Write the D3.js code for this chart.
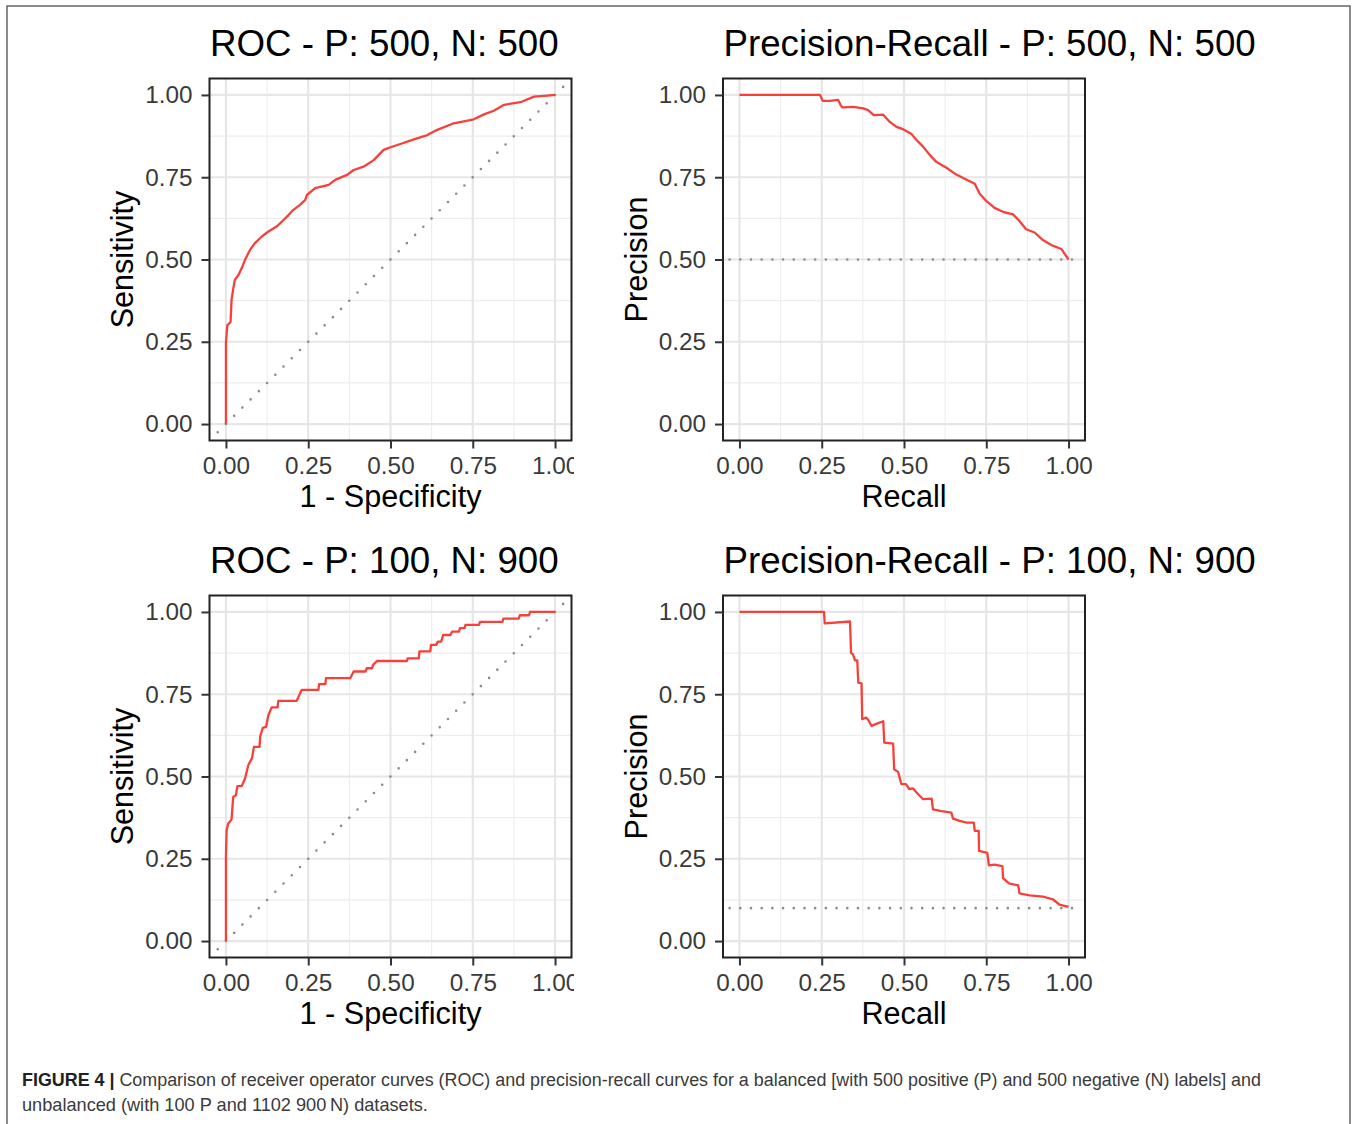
<!DOCTYPE html>
<html>
<head>
<meta charset="utf-8">
<script src="https://cdn.jsdelivr.net/npm/d3@7"></script>
<style>
  html, body { margin: 0; padding: 0; background: #fff; }
  svg { display: block; }
</style>
</head>
<body>
<svg id="chart" width="1357" height="1124"></svg>
<script>
// ---------- DATA ----------
const tickValues = [0, 0.25, 0.5, 0.75, 1];
const minorValues = [0.125, 0.375, 0.625, 0.875];

const panelTitles = [
  "ROC - P: 500, N: 500",
  "Precision-Recall - P: 500, N: 500",
  "ROC - P: 100, N: 900",
  "Precision-Recall - P: 100, N: 900"
];
const xTitles = ["1 - Specificity", "Recall", "1 - Specificity", "Recall"];
const yTitles = ["Sensitivity", "Precision", "Sensitivity", "Precision"];

// ROC, balanced (P 500, N 500)
const roc1X = [0, 0, 0.004, 0.014, 0.017, 0.022, 0.027, 0.038, 0.048, 0.058, 0.073, 0.088, 0.109, 0.129, 0.154, 0.175, 0.19, 0.205, 0.225, 0.241, 0.246, 0.271, 0.312, 0.332, 0.368, 0.388, 0.418, 0.449, 0.479, 0.5, 0.53, 0.571, 0.612, 0.642, 0.692, 0.753, 0.784, 0.814, 0.845, 0.895, 0.936, 0.977, 1];
const roc1Y = [0, 0.246, 0.30, 0.31, 0.377, 0.41, 0.438, 0.453, 0.474, 0.499, 0.529, 0.55, 0.57, 0.585, 0.60, 0.62, 0.635, 0.651, 0.666, 0.681, 0.696, 0.717, 0.727, 0.742, 0.757, 0.772, 0.782, 0.802, 0.833, 0.841, 0.851, 0.865, 0.878, 0.894, 0.914, 0.926, 0.941, 0.952, 0.97, 0.978, 0.995, 0.998, 1];

// Precision-Recall, balanced (P 500, N 500)
const pr1X = [0, 0.245, 0.253, 0.275, 0.3, 0.307, 0.313, 0.346, 0.376, 0.391, 0.408, 0.437, 0.457, 0.477, 0.497, 0.523, 0.538, 0.558, 0.578, 0.599, 0.629, 0.659, 0.689, 0.715, 0.73, 0.75, 0.775, 0.801, 0.831, 0.851, 0.871, 0.897, 0.922, 0.952, 0.978, 1];
const pr1Y = [1, 1, 0.982, 0.982, 0.985, 0.97, 0.962, 0.964, 0.959, 0.954, 0.939, 0.94, 0.918, 0.903, 0.896, 0.881, 0.863, 0.843, 0.818, 0.796, 0.779, 0.758, 0.743, 0.73, 0.70, 0.678, 0.657, 0.645, 0.637, 0.617, 0.592, 0.582, 0.559, 0.542, 0.532, 0.5];

// ROC, unbalanced (P 100, N 900)
const roc2X = [0, 0, 0.002, 0.007, 0.017, 0.022, 0.03, 0.035, 0.048, 0.058, 0.068, 0.079, 0.085, 0.102, 0.104, 0.112, 0.122, 0.129, 0.139, 0.157, 0.159, 0.215, 0.23, 0.281, 0.283, 0.302, 0.304, 0.378, 0.388, 0.424, 0.428, 0.444, 0.447, 0.459, 0.55, 0.552, 0.586, 0.588, 0.621, 0.623, 0.639, 0.644, 0.654, 0.66, 0.682, 0.687, 0.708, 0.711, 0.725, 0.728, 0.769, 0.772, 0.84, 0.843, 0.89, 0.893, 0.921, 0.924, 1];
const roc2Y = [0, 0.256, 0.337, 0.357, 0.369, 0.438, 0.443, 0.471, 0.471, 0.494, 0.535, 0.555, 0.59, 0.59, 0.621, 0.648, 0.651, 0.687, 0.71, 0.71, 0.73, 0.73, 0.763, 0.763, 0.781, 0.781, 0.799, 0.799, 0.819, 0.819, 0.829, 0.829, 0.839, 0.851, 0.851, 0.859, 0.859, 0.88, 0.88, 0.9, 0.9, 0.91, 0.91, 0.93, 0.93, 0.94, 0.94, 0.951, 0.951, 0.961, 0.961, 0.97, 0.97, 0.98, 0.98, 0.99, 0.99, 1, 1];

// Precision-Recall, unbalanced (P 100, N 900)
const pr2X = [0, 0.257, 0.259, 0.336, 0.339, 0.345, 0.351, 0.358, 0.361, 0.371, 0.373, 0.385, 0.392, 0.401, 0.416, 0.437, 0.44, 0.467, 0.47, 0.482, 0.492, 0.506, 0.516, 0.527, 0.543, 0.558, 0.584, 0.588, 0.614, 0.644, 0.649, 0.669, 0.69, 0.712, 0.715, 0.727, 0.728, 0.753, 0.758, 0.775, 0.799, 0.801, 0.819, 0.847, 0.851, 0.882, 0.922, 0.952, 0.972, 1];
const pr2Y = [1, 1, 0.965, 0.971, 0.876, 0.871, 0.853, 0.853, 0.785, 0.783, 0.674, 0.679, 0.671, 0.654, 0.66, 0.668, 0.603, 0.6, 0.522, 0.514, 0.477, 0.477, 0.462, 0.464, 0.446, 0.431, 0.433, 0.4, 0.395, 0.39, 0.372, 0.365, 0.36, 0.36, 0.335, 0.335, 0.274, 0.268, 0.23, 0.232, 0.228, 0.191, 0.175, 0.169, 0.145, 0.139, 0.135, 0.127, 0.111, 0.104];

const baselinePR = [0.5, 0.1]; // positive prevalence lines

const captionBold = "FIGURE 4 |";
const captionLine1 = " Comparison of receiver operator curves (ROC) and precision-recall curves for a balanced [with 500 positive (P) and 500 negative (N) labels] and";
const captionLine2 = "unbalanced (with 100 P and 1102 900\u2009N) datasets.";

// ---------- LAYOUT ----------
const svg = d3.select("#chart");
const FONT = "'Liberation Sans', Arial, Helvetica, sans-serif";
const RED = "#F7403A";
const W = 362, H = 362;
const panels = [
  { L: 209.5, T: 78.5, kind: "roc", xs: roc1X, ys: roc1Y },
  { L: 723,   T: 78.5, kind: "pr",  xs: pr1X,  ys: pr1Y, base: baselinePR[0] },
  { L: 209.5, T: 595.5, kind: "roc", xs: roc2X, ys: roc2Y },
  { L: 723,   T: 595.5, kind: "pr",  xs: pr2X,  ys: pr2Y, base: baselinePR[1] }
];

// outer frame
svg.append("rect")
  .attr("x", 7).attr("y", 6).attr("width", 1343).attr("height", 1130)
  .attr("fill", "none").attr("stroke", "#5a5a5a").attr("stroke-width", 1.4);

svg.append("clipPath").attr("id", "leftclip")
  .append("rect").attr("x", 0).attr("y", 0).attr("width", 574).attr("height", 1124);

panels.forEach((p, i) => {
  const x = d3.scaleLinear().domain([-0.05, 1.05]).range([p.L, p.L + W]);
  const y = d3.scaleLinear().domain([-0.05, 1.05]).range([p.T + H, p.T]);
  const g = svg.append("g");
  if (p.kind === "roc") g.attr("clip-path", "url(#leftclip)");

  const clipId = "pclip" + i;
  svg.append("clipPath").attr("id", clipId)
    .append("rect").attr("x", p.L).attr("y", p.T).attr("width", W).attr("height", H);

  // grid
  const grid = g.append("g");
  grid.selectAll(".minx").data(minorValues).join("line")
    .attr("x1", d => x(d)).attr("x2", d => x(d)).attr("y1", p.T).attr("y2", p.T + H)
    .attr("stroke", "#EDEDED").attr("stroke-width", 1.1);
  grid.selectAll(".miny").data(minorValues).join("line")
    .attr("y1", d => y(d)).attr("y2", d => y(d)).attr("x1", p.L).attr("x2", p.L + W)
    .attr("stroke", "#EDEDED").attr("stroke-width", 1.1);
  grid.selectAll(".majx").data(tickValues).join("line")
    .attr("x1", d => x(d)).attr("x2", d => x(d)).attr("y1", p.T).attr("y2", p.T + H)
    .attr("stroke", "#E6E6E6").attr("stroke-width", 2.2);
  grid.selectAll(".majy").data(tickValues).join("line")
    .attr("y1", d => y(d)).attr("y2", d => y(d)).attr("x1", p.L).attr("x2", p.L + W)
    .attr("stroke", "#E6E6E6").attr("stroke-width", 2.2);

  // reference lines
  const ref = g.append("g").attr("clip-path", `url(#${clipId})`);
  if (p.kind === "roc") {
    ref.append("line")
      .attr("x1", x(-0.025)).attr("y1", y(-0.025)).attr("x2", x(1.06)).attr("y2", y(1.06))
      .attr("stroke", "#8c8c8c").attr("stroke-width", 2.6)
      .attr("stroke-linecap", "round").attr("stroke-dasharray", "0 11.63");
  } else {
    ref.append("line")
      .attr("x1", x(-0.03)).attr("y1", y(p.base)).attr("x2", x(1.03)).attr("y2", y(p.base))
      .attr("stroke", "#8c8c8c").attr("stroke-width", 2.6)
      .attr("stroke-linecap", "round").attr("stroke-dasharray", "0 10.7");
  }

  // curve
  const pts = p.xs.map((v, k) => [v, p.ys[k]]);
  g.append("path")
    .datum(pts)
    .attr("d", d3.line().x(d => x(d[0])).y(d => y(d[1])))
    .attr("fill", "none").attr("stroke", RED).attr("stroke-width", 2.3)
    .attr("stroke-linejoin", "round");

  // panel border
  g.append("rect")
    .attr("x", p.L).attr("y", p.T).attr("width", W).attr("height", H)
    .attr("fill", "none").attr("stroke", "#222").attr("stroke-width", 2);

  // axes
  const fmt = d3.format(".2f");
  const ax = g.append("g").attr("transform", `translate(0,${p.T + H})`)
    .call(d3.axisBottom(x).tickValues(tickValues).tickFormat(fmt).tickSize(8).tickPadding(8.5));
  const ay = g.append("g").attr("transform", `translate(${p.L},0)`)
    .call(d3.axisLeft(y).tickValues(tickValues).tickFormat(fmt).tickSize(8).tickPadding(9));
  [ax, ay].forEach(a => {
    a.select(".domain").remove();
    a.selectAll(".tick line").attr("stroke", "#333").attr("stroke-width", 2);
    a.selectAll(".tick text").attr("fill", "#3a3a3a")
      .style("font-family", FONT).style("font-size", "24.3px");
  });

  // titles
  svg.append("text")
    .attr("x", p.L + 0.5).attr("y", p.T - 23)
    .style("font-family", FONT).style("font-size", "36.7px").attr("fill", "#000")
    .text(panelTitles[i]);
  svg.append("text")
    .attr("x", p.L + W / 2).attr("y", p.T + H + 66)
    .attr("text-anchor", "middle")
    .style("font-family", FONT).style("font-size", "30.6px").attr("fill", "#000")
    .text(xTitles[i]);
  svg.append("text")
    .attr("transform", `translate(${p.L - 76.5},${p.T + H / 2}) rotate(-90)`)
    .attr("text-anchor", "middle")
    .style("font-family", FONT).style("font-size", "30.6px").attr("fill", "#000")
    .text(yTitles[i]);
});

// caption
const cap1 = svg.append("text").attr("x", 22).attr("y", 1086)
  .style("font-family", FONT).style("font-size", "18px").attr("fill", "#3a3a3a");
cap1.append("tspan").style("font-weight", "bold").attr("fill", "#222").text(captionBold);
cap1.append("tspan").text(captionLine1);
const cap2 = svg.append("text").attr("x", 22).attr("y", 1111)
  .style("font-family", FONT).style("font-size", "18px").attr("fill", "#3a3a3a")
  .text(captionLine2);

function fitWidth(sel, target) {
  const w = sel.node().getBBox().width;
  const s = target / w;
  sel.attr("transform", `translate(22,0) scale(${s},1) translate(-22,0)`);
}
fitWidth(cap1, 1240);
fitWidth(cap2, 406);
</script>
</body>
</html>
